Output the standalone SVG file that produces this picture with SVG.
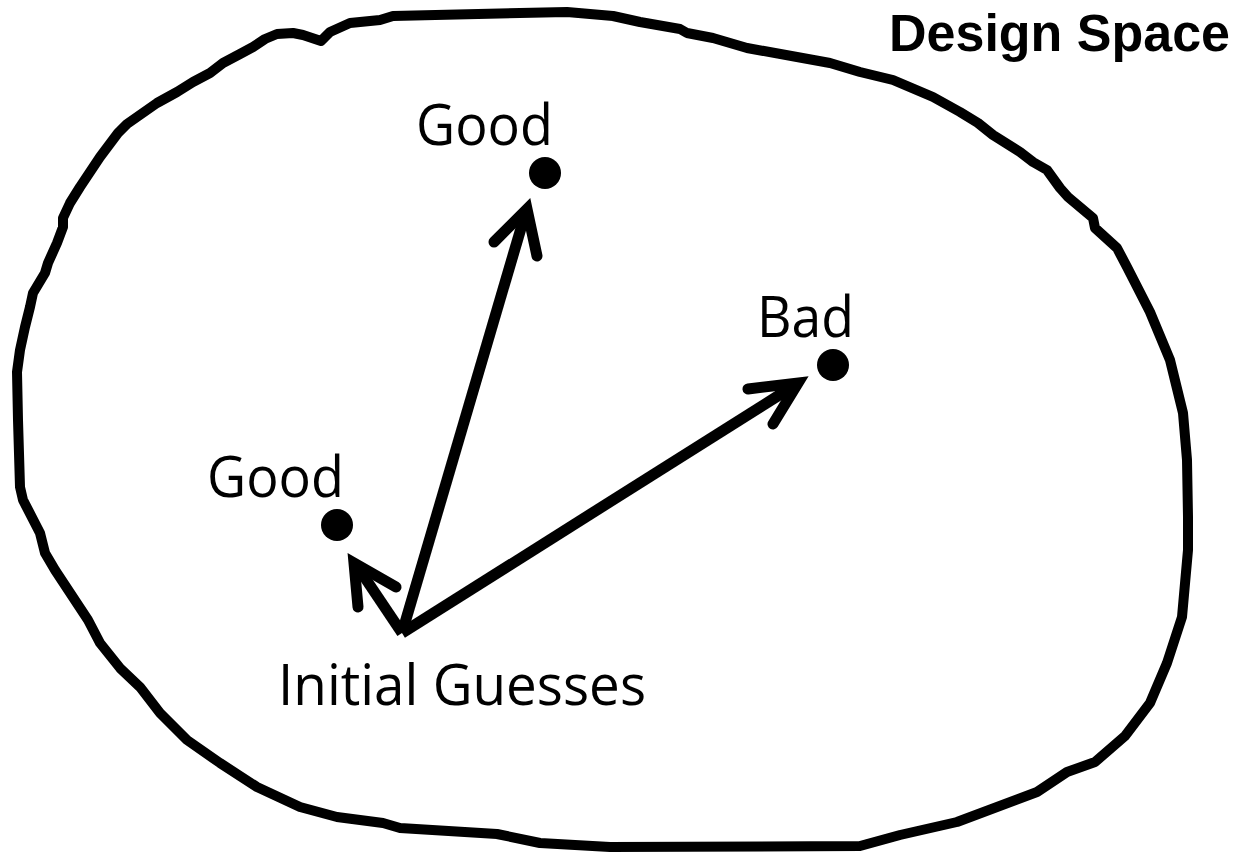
<svg xmlns="http://www.w3.org/2000/svg" width="1237" height="852" viewBox="0 0 1237 852">
<style>
.lbl{font-family:"Open Sans","Liberation Sans",sans-serif;font-size:56px;fill:#000}
.ttl{font-family:"Liberation Sans",Arial,sans-serif;font-size:51px;font-weight:bold;fill:#000}
.blob{fill:none;stroke:#000;stroke-width:10;stroke-linejoin:round}
.shaft{stroke:#000;stroke-width:11;fill:none}
.head{stroke:#000;stroke-width:11;fill:none;stroke-linecap:round;stroke-linejoin:miter}
.dot{fill:#000}
</style>
<rect width="1237" height="852" fill="#fff"/>
<g id="design-space">
<path class="blob" d="M321,41 L303,35 L293,33 L277,34 L265,39 L253,47 L240,54 L223,63 L210,73 L193,82 L177,92 L157,103 L147,110 L127,124 L118,133 L100,157 L80,187 L70,203 L63,218 L63,227 L57,243 L48,263 L45,273 L33,293 L30,307 L25,327 L20,350 L17,372 L18,420 L20,487 L23,500 L40,533 L45,553 L55,570 L88,620 L100,643 L120,668 L140,687 L160,713 L187,740 L220,763 L257,787 L300,807 L337,817 L383,823 L400,828 L497,834 L540,843 L610,847 L860,846 L900,835 L957,822 L1037,792 L1067,772 L1095,762 L1125,736 L1150,703 L1167,663 L1182,617 L1188,550 L1188,517 L1187,460 L1183,413 L1170,360 L1150,312 L1127,267 L1117,248 L1095,228 L1093,218 L1068,197 L1060,188 L1047,170 L1033,162 L1020,152 L993,135 L978,123 L960,112 L933,97 L893,80 L860,72 L830,63 L797,57 L747,48 L713,38 L687,33 L680,29 L640,22 L613,16 L567,12 L393,16 L380,20 L350,23 L330,32 Z"/>
<text class="ttl" x="889" y="51" textLength="341" lengthAdjust="spacingAndGlyphs">Design Space</text>
</g>
<g id="good-upper">
<circle class="dot" cx="545" cy="173" r="16"/>
<text class="lbl" x="416" y="145" textLength="137" lengthAdjust="spacingAndGlyphs">Good</text>
</g>
<g id="bad">
<circle class="dot" cx="833" cy="365" r="16"/>
<text class="lbl" x="757" y="337" textLength="97" lengthAdjust="spacingAndGlyphs">Bad</text>
</g>
<g id="good-lower">
<circle class="dot" cx="337" cy="525" r="16"/>
<text class="lbl" x="207" y="497" textLength="137" lengthAdjust="spacingAndGlyphs">Good</text>
</g>
<g id="initial-guesses">
<text class="lbl" x="278" y="705" textLength="368" lengthAdjust="spacingAndGlyphs">Initial Guesses</text>
</g>
<g id="connectors">
<line class="shaft" x1="402" y1="633" x2="524" y2="218"/>
<polyline class="head" points="494,242 527,209 537,256"/>
<line class="shaft" x1="402" y1="633" x2="792" y2="387"/>
<polyline class="head" points="748,389 798,383 773,424"/>
<line class="shaft" x1="402" y1="633" x2="357" y2="566"/>
<polyline class="head" points="396,587 354,563 358,607"/>
</g>
</svg>
